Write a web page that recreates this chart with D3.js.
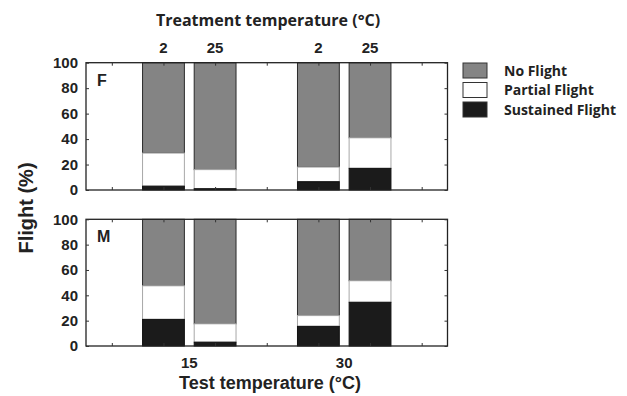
<!DOCTYPE html>
<html>
<head>
<meta charset="utf-8">
<script src="https://cdn.jsdelivr.net/npm/d3@7"></script>
<style>
  body { margin: 0; background: #fff; }
  text { font-family: "Liberation Sans", Arial, sans-serif; font-weight: bold; fill: #222; }
  .os { font-family: "Open Sans", "Liberation Sans", sans-serif; }
</style>
</head>
<body>
<div id="chart"></div>
<script>
// data
const testTemps = ["15", "30"];
const treatTemps = ["2", "25"];
const stages = ["Sustained Flight", "Partial Flight", "No Flight"];
// per bar: [test, treatment] order 15/2, 15/25, 30/2, 30/25
const femaleSustained = [3, 1, 6.5, 17];
const femalePartial = [26, 15, 11.5, 24];
const maleSustained = [21, 3, 15.5, 34.5];
const malePartial = [26.5, 14.5, 8.5, 17];
const yTicks = [0, 20, 40, 60, 80, 100];

const fills = { "No Flight": "#848484", "Partial Flight": "#ffffff", "Sustained Flight": "#1b1b1b" };
const strokes = { "No Flight": "#2a2a2a", "Partial Flight": "#a8a8a8", "Sustained Flight": "#111" };

const W = 627, H = 396;
const svg = d3.select("#chart").append("svg")
    .attr("width", W).attr("height", H);

// bar positions on a numeric axis 0.5..7.5, ticks at 1..7
const barPos = [2, 3, 5, 6];
const x = d3.scaleLinear().domain([0.5, 7.5]).range([86, 447.5]);
const barW = x(0.81) - x(0);

const panels = [
    { name: "F", top: 62.7, bottom: 190, sus: femaleSustained, par: femalePartial },
    { name: "M", top: 219.3, bottom: 346, sus: maleSustained, par: malePartial }
];

panels.forEach((p, pi) => {
    const y = d3.scaleLinear().domain([0, 100]).range([p.bottom, p.top]);
    const g = svg.append("g");

    // stacked bars
    const rows = barPos.map((b, i) => {
        const s = p.sus[i], pa = p.par[i];
        return [
            { key: "Sustained Flight", y0: 0, y1: s, pos: b },
            { key: "Partial Flight", y0: s, y1: s + pa, pos: b },
            { key: "No Flight", y0: s + pa, y1: 100, pos: b }
        ];
    }).flat();

    // draw grey first, then white, then black so outlines sit on top
    ["No Flight", "Partial Flight", "Sustained Flight"].forEach(k => {
        g.selectAll(null)
            .data(rows.filter(r => r.key === k))
            .enter().append("rect")
            .attr("x", d => x(d.pos) - barW / 2)
            .attr("width", barW)
            .attr("y", d => y(d.y1))
            .attr("height", d => y(d.y0) - y(d.y1))
            .attr("fill", fills[k])
            .attr("stroke", strokes[k])
            .attr("stroke-width", 1);
    });

    // frame
    g.append("rect")
        .attr("x", x(0.5)).attr("y", p.top)
        .attr("width", x(7.5) - x(0.5)).attr("height", p.bottom - p.top)
        .attr("fill", "none").attr("stroke", "#222").attr("stroke-width", 1.3);

    // inward ticks
    const xt = d3.range(1, 8);
    g.append("g").attr("transform", `translate(0,${p.bottom})`)
        .call(d3.axisBottom(x).tickValues(xt).tickSize(-3).tickFormat(""))
        .call(a => a.select(".domain").remove());
    g.append("g").attr("transform", `translate(0,${p.top})`)
        .call(d3.axisTop(x).tickValues(xt).tickSize(-3).tickFormat(""))
        .call(a => a.select(".domain").remove());
    g.append("g").attr("transform", `translate(${x(7.5)},0)`)
        .call(d3.axisRight(y).tickValues(yTicks).tickSize(-3).tickFormat(""))
        .call(a => a.select(".domain").remove());
    const ya = g.append("g").attr("transform", `translate(${x(0.5)},0)`)
        .call(d3.axisLeft(y).tickValues(yTicks).tickSize(-3).tickPadding(8))
        .call(a => a.select(".domain").remove());
    ya.selectAll("text")
        .style("font-family", "'Liberation Sans', Arial, sans-serif")
        .style("font-weight", "bold")
        .style("font-size", "15px")
        .attr("fill", "#222");
    g.selectAll(".tick line").attr("stroke", "#333");

    // panel letter
    g.append("text")
        .attr("x", 97).attr("y", p.top + 23)
        .style("font-size", "16px")
        .text(p.name);
});

// treatment temperature labels along top
svg.selectAll(null)
    .data(barPos)
    .enter().append("text")
    .attr("x", d => x(d))
    .attr("y", 53)
    .attr("text-anchor", "middle")
    .style("font-size", "15px")
    .text((d, i) => treatTemps[i % 2]);

svg.append("text")
    .attr("class", "os")
    .attr("x", 268).attr("y", 26)
    .attr("text-anchor", "middle")
    .style("font-size", "16px")
    .text("Treatment temperature (°C)");

// test temperature labels
svg.selectAll(null)
    .data(testTemps)
    .enter().append("text")
    .attr("x", (d, i) => x(2.5 + i * 3))
    .attr("y", 368)
    .attr("text-anchor", "middle")
    .style("font-size", "15px")
    .text(d => d);

svg.append("text")
    .attr("x", 270).attr("y", 389)
    .attr("text-anchor", "middle")
    .style("font-size", "18px")
    .text("Test temperature (°C)");

svg.append("text")
    .attr("transform", "translate(33,208) rotate(-90)")
    .attr("text-anchor", "middle")
    .style("font-size", "20px")
    .text("Flight (%)");

// legend
const legendOrder = ["No Flight", "Partial Flight", "Sustained Flight"];
const lg = svg.append("g").attr("transform", "translate(463,63)");
lg.selectAll("rect")
    .data(legendOrder)
    .enter().append("rect")
    .attr("x", 0).attr("y", (d, i) => i * 19.5)
    .attr("width", 24).attr("height", 15)
    .attr("fill", d => fills[d])
    .attr("stroke", "#333").attr("stroke-width", 1);
lg.selectAll("text")
    .data(legendOrder)
    .enter().append("text")
    .attr("class", "os")
    .attr("x", 41).attr("y", (d, i) => i * 19.5 + 12.5)
    .style("font-size", "14px")
    .text(d => d);
</script>
</body>
</html>
